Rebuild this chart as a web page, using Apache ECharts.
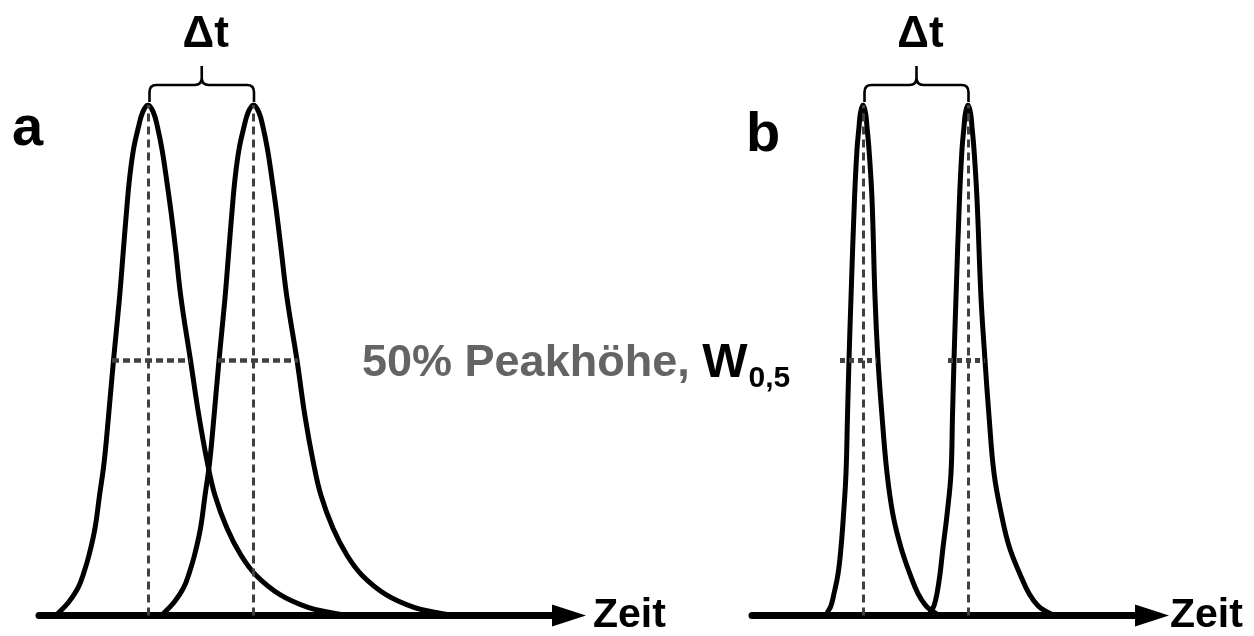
<!DOCTYPE html>
<html>
<head>
<meta charset="utf-8">
<script src="https://cdn.jsdelivr.net/npm/echarts@6/dist/echarts.min.js"></script>
<style>
  html, body { margin: 0; padding: 0; background: #ffffff; }
  #chart { width: 1254px; height: 636px; }
</style>
</head>
<body>
<div id="chart"></div>
<script>
// Time in arbitrary units, signal in % of peak height.

// Panel a: two broad, tailing peaks
const peakA1 = [
  [3.4, 0], [4.2, 0.8], [6.0, 2.7], [7.8, 5.4], [9.0, 8.5], [10.0, 11.8], [11.2, 17.1],
  [12.1, 23.5], [13.0, 29.8], [13.9, 39.0], [14.9, 50], [16.1, 62.2], [16.9, 71.9],
  [17.5, 79.1], [18.1, 85.5], [18.9, 91.3], [19.9, 95.7], [20.7, 98.5],
  [21.8, 100],
  [22.9, 98.5], [23.7, 95.7], [24.6, 91.3], [25.5, 85.5], [26.4, 79.1], [27.3, 71.9],
  [28.4, 62.2], [30.3, 50], [32.0, 39.0], [33.7, 29.8], [35.2, 23.5], [37.6, 17.1],
  [40.4, 11.8], [43.4, 7.9], [48.2, 4.1], [53.8, 1.6], [58.2, 0.6], [61.8, 0]
];
const peakA2 = [
  [24.5, 0], [25.3, 0.8], [27.1, 2.7], [28.9, 5.4], [30.1, 8.5], [31.1, 11.8], [32.3, 17.1],
  [33.2, 23.5], [34.1, 29.8], [35.0, 39.0], [36.0, 50], [37.2, 62.2], [38.0, 71.9],
  [38.6, 79.1], [39.2, 85.5], [40.0, 91.3], [41.0, 95.7], [41.8, 98.5],
  [42.9, 100],
  [44.0, 98.5], [44.8, 95.7], [45.7, 91.3], [46.6, 85.5], [47.5, 79.1], [48.4, 71.9],
  [49.6, 62.2], [51.6, 50], [53.2, 39.0], [54.9, 29.8], [56.4, 23.5], [58.8, 17.1],
  [61.6, 11.8], [64.6, 7.9], [69.4, 4.1], [75.0, 1.6], [79.4, 0.6], [83.0, 0]
];

// Panel b: two narrow peaks with the same spacing
const peakB1 = [
  [14.8, 0], [15.2, 0.8], [15.8, 1.9], [16.4, 4.3], [17.2, 8.1], [17.8, 13.3],
  [18.3, 19.7], [18.8, 27.9], [19.1, 39.1], [19.4, 50], [19.8, 62.3], [20.5, 81.6],
  [21.0, 91.3], [21.4, 95.7], [21.7, 98.5],
  [22.2, 100],
  [22.7, 98.5], [23.0, 95.7], [23.4, 91.3], [24.0, 81.6], [24.6, 62.3], [25.2, 50],
  [26.0, 39.1], [27.0, 27.9], [28.2, 19.7], [29.8, 13.3], [31.6, 8.1], [33.2, 4.3],
  [34.8, 1.9], [36.2, 0.8], [37.4, 0]
];
const peakB2 = [
  [35.2, 0], [35.8, 0.8], [36.4, 1.9], [37.0, 4.3], [37.6, 8.1], [38.2, 13.3],
  [39.0, 19.7], [39.8, 27.9], [40.1, 39.1], [40.4, 50], [40.8, 62.3], [41.5, 81.6],
  [42.0, 91.3], [42.4, 95.7], [42.7, 98.5],
  [43.2, 100],
  [43.7, 98.5], [44.0, 95.7], [44.4, 91.3], [45.0, 81.6], [45.8, 62.3], [46.6, 50],
  [47.4, 39.1], [48.4, 27.9], [49.9, 19.7], [51.5, 13.3], [53.6, 8.1], [55.4, 4.3],
  [57.2, 1.9], [58.8, 0.8], [60.4, 0]
];

// Retention times of the peak maxima
const apexA = [21.8, 42.9];
const apexB = [22.2, 43.2];
// Peak width at half height (start, end) for each peak
const halfWidthA = [[14.6, 30.2], [35.8, 51.8]];
const halfWidthB = [[17.6, 25.0], [39.2, 46.6]];
const peakHeight = 100;
const halfHeight = 50;

const timeRangeA = [0, 106];
const timeRangeB = [0, 80];
const axisName = 'Zeit';
const deltaLabel = 'Δt';

const FONT = '"Liberation Sans", Arial, sans-serif';
const DASH_GREY = '#404040';

const chart = echarts.init(document.getElementById('chart'), null, { renderer: 'canvas' });

function xAxisFor(gridIndex, range, gap) {
  return {
    type: 'value', gridIndex: gridIndex, min: range[0], max: range[1],
    axisLine: {
      show: true, onZero: true,
      lineStyle: { color: '#000', width: 7 },
      symbol: ['none', 'triangle'], symbolSize: [22, 34]
    },
    axisTick: { show: false }, axisLabel: { show: false }, splitLine: { show: false },
    name: axisName, nameLocation: 'end', nameGap: gap,
    nameTextStyle: { fontSize: 41, fontWeight: 'bold', fontFamily: FONT, color: '#000' }
  };
}
function yAxisFor(gridIndex) {
  return { type: 'value', gridIndex: gridIndex, min: 0, max: peakHeight, show: false };
}

function peakSeries(data, gridIndex, apexTime, halfSpan, dotDash, dotWidth) {
  return {
    type: 'line', xAxisIndex: gridIndex, yAxisIndex: gridIndex,
    data: data, showSymbol: false, smooth: 0.4, silent: true,
    lineStyle: { color: '#000', width: 5, join: 'round' },
    z: 3,
    markLine: {
      silent: true, symbol: ['none', 'none'], label: { show: false },
      animation: false,
      data: [
        [
          { coord: [apexTime, 0], lineStyle: { type: [8, 5], width: 3, color: DASH_GREY } },
          { coord: [apexTime, peakHeight] }
        ],
        [
          { coord: [halfSpan[0], halfHeight], lineStyle: { type: dotDash, width: dotWidth, color: DASH_GREY } },
          { coord: [halfSpan[1], halfHeight] }
        ]
      ]
    }
  };
}

// Curly brace spanning the two maxima, with the Δt label above it
function braceSeries(gridIndex, apex) {
  return {
    type: 'custom', xAxisIndex: gridIndex, yAxisIndex: gridIndex,
    data: [[apex[0], apex[1], peakHeight]],
    encode: { x: [0, 1], y: 2 },
    silent: true, clip: false, z: 4,
    renderItem: function (params, api) {
      const p1 = api.coord([api.value(0), api.value(2)]);
      const p2 = api.coord([api.value(1), api.value(2)]);
      const x1 = p1[0] + 1.5, x2 = p2[0] + 0.5;
      const yEnd = p1[1] - 3;
      const yBar = p1[1] - 20;
      const yTip = p1[1] - 39;
      const xc = (x1 + x2) / 2;
      const r = 7;
      const d =
        'M' + x1 + ',' + yEnd +
        'L' + x1 + ',' + (yBar + r) +
        'Q' + x1 + ',' + yBar + ',' + (x1 + r) + ',' + yBar +
        'L' + (xc - r) + ',' + yBar +
        'Q' + xc + ',' + yBar + ',' + xc + ',' + (yBar - r) +
        'L' + xc + ',' + yTip +
        'M' + xc + ',' + (yBar - r) +
        'Q' + xc + ',' + yBar + ',' + (xc + r) + ',' + yBar +
        'L' + (x2 - r) + ',' + yBar +
        'Q' + x2 + ',' + yBar + ',' + x2 + ',' + (yBar + r) +
        'L' + x2 + ',' + yEnd;
      return {
        type: 'group',
        children: [
          {
            type: 'path',
            shape: { pathData: d },
            style: { fill: 'none', stroke: '#000', lineWidth: 2.6, lineJoin: 'round', lineCap: 'butt' }
          },
          {
            type: 'text',
            x: xc + 4, y: yTip - 31,
            style: {
              text: deltaLabel, fill: '#000',
              fontSize: 44, fontWeight: 'bold', fontFamily: FONT,
              align: 'center', verticalAlign: 'middle'
            }
          }
        ]
      };
    }
  };
}

const option = {
  animation: false,
  backgroundColor: '#ffffff',
  grid: [
    { left: 39, top: 105, width: 530, height: 516 },
    { left: 752, top: 105, width: 400, height: 517 }
  ],
  xAxis: [xAxisFor(0, timeRangeA, 24), xAxisFor(1, timeRangeB, 18)],
  yAxis: [yAxisFor(0), yAxisFor(1)],
  series: [
    peakSeries(peakA1, 0, apexA[0], halfWidthA[0], [7, 4], 4.5),
    peakSeries(peakA2, 0, apexA[1], halfWidthA[1], [7, 4], 4.5),
    peakSeries(peakB1, 1, apexB[0], halfWidthB[0], [5, 4], 5),
    peakSeries(peakB2, 1, apexB[1], halfWidthB[1], [5, 4], 5),
    braceSeries(0, apexA),
    braceSeries(1, apexB)
  ],
  graphic: [
    {
      type: 'text', x: 12, y: 130, silent: true,
      style: { text: 'a', fill: '#000', font: 'bold 56px ' + FONT, verticalAlign: 'middle' }
    },
    {
      type: 'text', x: 746, y: 136, silent: true,
      style: { text: 'b', fill: '#000', font: 'bold 56px ' + FONT, verticalAlign: 'middle' }
    },
    {
      type: 'text', x: 362, y: 364, silent: true,
      style: {
        text: '{g|50% Peakhöhe, }{w|W}{s|0,5}',
        verticalAlign: 'middle',
        rich: {
          g: { fontSize: 45, fontWeight: 'bold', fontFamily: FONT, fill: '#646464', lineHeight: 46 },
          w: { fontSize: 48, fontWeight: 'bold', fontFamily: FONT, fill: '#000', lineHeight: 48 },
          s: { fontSize: 30, fontWeight: 'bold', fontFamily: FONT, fill: '#000', padding: [30, 0, 0, 1] }
        }
      }
    }
  ]
};

chart.setOption(option);
</script>
</body>
</html>
